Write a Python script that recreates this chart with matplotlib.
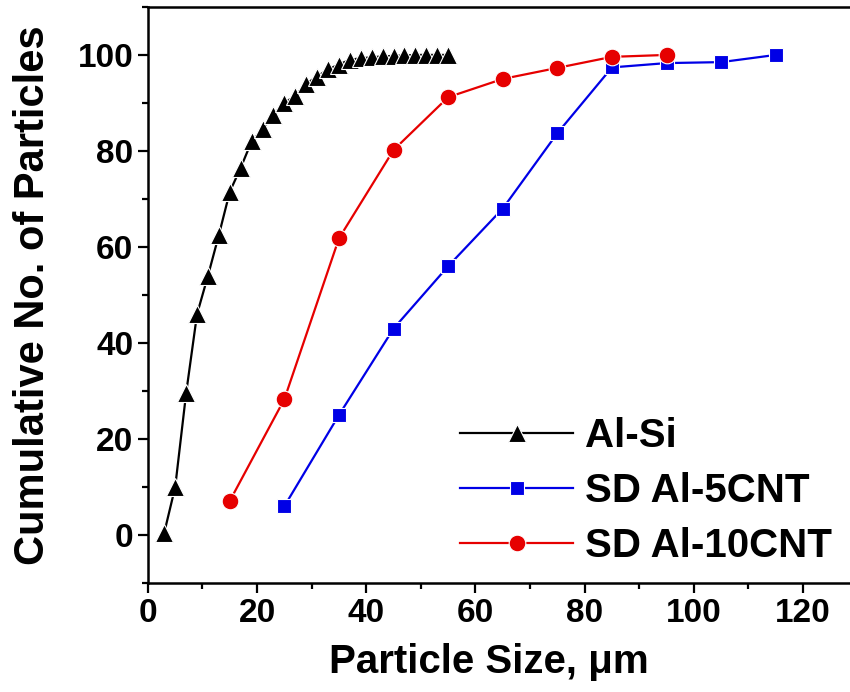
import matplotlib
matplotlib.use('Agg')
import matplotlib.pyplot as plt
from matplotlib.ticker import MultipleLocator

plt.rcParams['font.family'] = ['Liberation Sans', 'DejaVu Sans']
plt.rcParams['font.weight'] = 'bold'

# Al-Si
alsi_x = [3, 5, 7, 9, 11, 13, 15, 17, 19, 21, 23, 25, 27, 29, 31, 33, 35,
          37, 39, 41, 43, 45, 47, 49, 51, 53, 55]
alsi_y = [0.5, 10, 29.5, 46, 54, 62.5, 71.5, 76.5, 82, 84.5, 87.5, 90, 91.5,
          94, 95.5, 97, 98, 99, 99.3, 99.5, 99.7, 99.8, 99.9, 100, 100, 100, 100]

# SD Al-5CNT
cnt5_x = [25, 35, 45, 55, 65, 75, 85, 95, 105, 115]
cnt5_y = [6, 25, 43, 56, 68, 83.7, 97.4, 98.3, 98.5, 100]

# SD Al-10CNT
cnt10_x = [15, 25, 35, 45, 55, 65, 75, 85, 95]
cnt10_y = [7.1, 28.3, 61.8, 80.2, 91.2, 95, 97.3, 99.6, 100]

fig = plt.figure(figsize=(8.5, 6.92), dpi=100)
ax = fig.add_axes([0.174, 0.1575, 0.826, 0.8325])

ax.plot(alsi_x, alsi_y, color='black', lw=1.6, marker='^', ms=13,
        mec='white', mew=0.8, label='Al-Si')
ax.plot(cnt5_x, cnt5_y, color='#0000e6', lw=1.6, marker='s', ms=10,
        mec='white', mew=0.8, label='SD Al-5CNT')
ax.plot(cnt10_x, cnt10_y, color='#e60000', lw=1.6, marker='o', ms=12,
        mec='white', mew=0.8, label='SD Al-10CNT')

ax.set_xlim(0, 128.6)
ax.set_ylim(-10, 110)
ax.xaxis.set_major_locator(MultipleLocator(20))
ax.xaxis.set_minor_locator(MultipleLocator(10))
ax.yaxis.set_major_locator(MultipleLocator(20))
ax.yaxis.set_minor_locator(MultipleLocator(10))

for s in ['left', 'bottom', 'top']:
    ax.spines[s].set_linewidth(1.8)
ax.spines['right'].set_visible(False)

ax.tick_params(which='major', direction='out', length=7, width=1.6,
               labelsize=24, top=False, right=False)
ax.tick_params(which='minor', direction='out', length=4, width=1.6,
               top=False, right=False)

ax.set_xlabel('Particle Size, \u03bcm', fontsize=29, fontweight='bold')
ax.xaxis.set_label_coords(0.485, -0.105)
ax.set_ylabel('Cumulative No. of Particles', fontsize=30, fontweight='bold',
              labelpad=18)

ax.legend(loc='lower right', bbox_to_anchor=(1.0, 0.0), frameon=False,
          fontsize=29, handlelength=2.8, labelspacing=0.42, handletextpad=0.3,
          borderaxespad=0.05)

fig.savefig('out.png', dpi=100)
